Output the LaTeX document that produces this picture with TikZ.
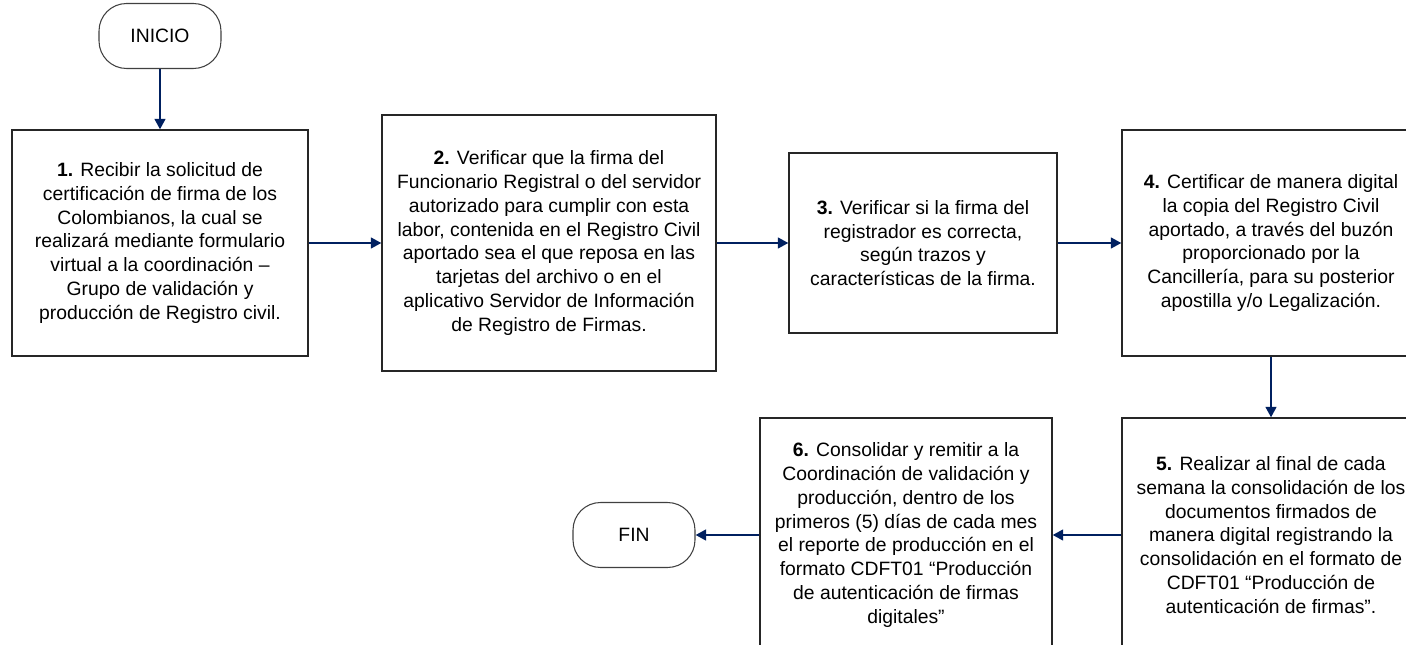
\documentclass[tikz,border=0pt]{standalone}
\usepackage{fontspec}
\setmainfont{Liberation Sans}
\usetikzlibrary{arrows.meta}
\definecolor{flecha}{RGB}{0,32,96}

\begin{document}
\begin{tikzpicture}[x=0.02cm,y=-0.02cm,font=\fontsize{11pt}{13.5pt}\selectfont]
    \tikzstyle{paso}=[draw=black!85,line width=0.7pt,align=center,inner sep=0pt]
    \tikzstyle{terminal}=[draw=black!75,line width=0.6pt,rounded corners=0.55cm,minimum width=2.44cm,minimum height=1.3cm]
    \tikzstyle{flujo}=[draw=flecha,line width=1.6pt,-{Triangle[length=6pt,width=6pt]}]
    \useasboundingbox (0,0) rectangle (1406,645);
    \clip (0,0) rectangle (1406,645);
    \node[terminal] (inicio) at (160,36) {INICIO};
    \node[paso,minimum width=5.92cm,minimum height=4.52cm] (p_1) at (160,243) {\textbf{1.} Recibir la solicitud de\\certificación de firma de los\\Colombianos, la cual se\\realizará mediante formulario\\virtual a la coordinación –\\Grupo de validación y\\producción de Registro civil.};
    \node[paso,minimum width=6.68cm,minimum height=5.12cm] (p_2) at (549,243) {\textbf{2.} Verificar que la firma del\\Funcionario Registral o del servidor\\autorizado para cumplir con esta\\labor, contenida en el Registro Civil\\aportado sea el que reposa en las\\tarjetas del archivo o en el\\aplicativo Servidor de Información\\de Registro de Firmas.};
    \node[paso,minimum width=5.36cm,minimum height=3.6cm] (p_3) at (923,243) {\textbf{3.} Verificar si la firma del\\registrador es correcta,\\según trazos y\\características de la firma.};
    \node[paso,minimum width=5.96cm,minimum height=4.52cm] (p_4) at (1271,243) {\textbf{4.} Certificar de manera digital\\la copia del Registro Civil\\aportado, a través del buzón\\proporcionado por la\\Cancillería, para su posterior\\apostilla y/o Legalización.};
    \node[paso,minimum width=5.96cm,minimum height=4.68cm] (p_5) at (1271,535) {\textbf{5.} Realizar al final de cada\\semana la consolidación de los\\documentos firmados de\\manera digital registrando la\\consolidación en el formato de\\CDFT01 “Producción de\\autenticación de firmas”.};
    \node[paso,minimum width=5.84cm,minimum height=4.68cm] (p_6) at (906,535) {\textbf{6.} Consolidar y remitir a la\\Coordinación de validación y\\producción, dentro de los\\primeros (5) días de cada mes\\el reporte de producción en el\\formato CDFT01 “Producción\\de autenticación de firmas\\digitales”};
    \node[terminal] (fin) at (634,535) {FIN};
    \draw[flujo] (inicio) -- (p_1);
    \draw[flujo] (p_1) -- (p_2);
    \draw[flujo] (p_2) -- (p_3);
    \draw[flujo] (p_3) -- (p_4);
    \draw[flujo] (p_4) -- (p_5);
    \draw[flujo] (p_5) -- (p_6);
    \draw[flujo] (p_6) -- (fin);
  \end{tikzpicture}
\end{document}
